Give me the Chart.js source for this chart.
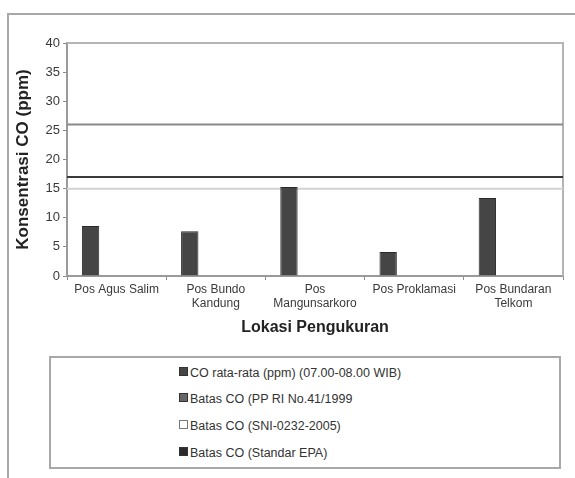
<!DOCTYPE html>
<html>
<head>
<meta charset="utf-8">
<script src="https://cdn.jsdelivr.net/npm/chart.js@4/dist/chart.umd.min.js"></script>
<style>
  body { margin: 0; background: #fff; font-family: "Liberation Sans", Arial, sans-serif; }
  #wrap { position: relative; width: 575px; height: 478px; overflow: hidden; }
  #frame { position: absolute; left: 7px; top: 13px; width: 600px; height: 500px;
           border-top: 2px solid #a8a8a8; border-left: 2px solid #a8a8a8; }
  #chartBox { position: absolute; left: 0; top: 0; width: 575px; height: 350px; }
  #legend { position: absolute; left: 49px; top: 356px; width: 508px; height: 109px;
            border: 2px solid #a8a8a8; background: #fff; }
  .item { position: absolute; left: 128px; font-size: 12.5px; color: #333; line-height: 14px; }
  .item span { display: inline-block; width: 7px; height: 7px; margin-right: 2px; vertical-align: 1px; }
</style>
</head>
<body>
<div id="wrap">
  <div id="frame"></div>
  <div id="chartBox"><canvas id="chart"></canvas></div>
  <div id="legend"></div>
</div>
<script>
// Data
const categories = [
  'Pos Agus Salim',
  ['Pos Bundo', 'Kandung'],
  ['Pos', 'Mangunsarkoro'],
  'Pos Proklamasi',
  ['Pos Bundaran', 'Telkom']
];
const coValues = [8.6, 7.7, 15.3, 4.1, 13.4];
const seriesNames = [
  'CO rata-rata (ppm) (07.00-08.00 WIB)',
  'Batas CO (PP RI No.41/1999',
  'Batas CO (SNI-0232-2005)',
  'Batas CO (Standar EPA)'
];
// limit values (ppm) drawn as horizontal lines
const limitPP = 26;
const limitSNI = 15;
const limitEPA = 17;
const yTicks = [0, 5, 10, 15, 20, 25, 30, 35, 40];

const colors = ['#454545', '#8a8a8a', '#d2d2d2', '#3a3a3a'];
const legendColors = ['#454545', '#666666', '#ffffff', '#2a2a2a'];
const limits = [null, limitPP, limitSNI, limitEPA];

// Limit lines across the whole plot + frame of the plot area
const limitLines = {
  id: 'limitLines',
  beforeDatasetsDraw(chart) {
    const { ctx, chartArea: a, scales } = chart;
    ctx.save();
    ctx.strokeStyle = '#b4b4b4';
    ctx.lineWidth = 2;
    ctx.beginPath();
    ctx.moveTo(a.left, a.top);
    ctx.lineTo(a.right, a.top);
    ctx.lineTo(a.right, a.bottom);
    ctx.stroke();
    limits.forEach((v, i) => {
      if (v === null) return;
      const y = scales.y.getPixelForValue(v);
      ctx.strokeStyle = colors[i];
      ctx.lineWidth = 2;
      ctx.beginPath();
      ctx.moveTo(a.left, y);
      ctx.lineTo(a.right, y);
      ctx.stroke();
    });
    ctx.restore();
  }
};

const datasets = seriesNames.map((name, i) => ({
  label: name,
  data: i === 0 ? coValues : categories.map(() => null),
  backgroundColor: colors[i],
  borderColor: '#2a2a2a',
  borderWidth: 1,
  categoryPercentage: 0.7,
  barPercentage: 1
}));

new Chart(document.getElementById('chart'), {
  type: 'bar',
  data: { labels: categories, datasets },
  plugins: [limitLines],
  options: {
    responsive: true,
    maintainAspectRatio: false,
    animation: false,
    layout: { padding: { left: 13, top: 43, right: 12, bottom: 0 } },
    plugins: { legend: { display: false }, tooltip: { enabled: false } },
    scales: {
      x: {
        grid: { display: true, drawOnChartArea: false, drawTicks: true, tickLength: 4, color: '#8a8a8a', lineWidth: 1 },
        border: { color: '#9a9a9a', width: 2 },
        ticks: { color: '#3a3a3a', font: { family: 'Liberation Sans', size: 12 }, padding: 2, maxRotation: 0, autoSkip: false },
        title: { display: true, text: 'Lokasi Pengukuran', color: '#222',
                 font: { family: 'Liberation Sans', size: 16, weight: 'bold' }, padding: { top: 0, bottom: 13 } },
        afterFit(scale) { scale.height = 74; }
      },
      y: {
        min: 0,
        max: 40,
        afterBuildTicks(scale) { scale.ticks = yTicks.map(v => ({ value: v })); },
        grid: { display: true, drawOnChartArea: false, drawTicks: true, tickLength: 4, color: '#8a8a8a' },
        border: { color: '#9a9a9a', width: 2 },
        ticks: { color: '#3a3a3a', font: { family: 'Liberation Sans', size: 13 }, padding: 3 },
        title: { display: true, text: 'Konsentrasi CO (ppm)', color: '#222',
                 font: { family: 'Liberation Sans', size: 17, weight: 'bold' }, padding: 0 },
        afterFit(scale) { scale.width = 54; }
      }
    }
  }
});

// Legend box (one entry per row)
const legendEl = document.getElementById('legend');
const rowTops = [8, 34, 61, 88];
seriesNames.forEach((name, i) => {
  const div = document.createElement('div');
  div.className = 'item';
  div.style.top = rowTops[i] + 'px';
  const border = i === 2 ? '1px solid #777' : '1px solid #333';
  div.innerHTML = `<span style="background:${legendColors[i]};border:${border}"></span>${name}`;
  legendEl.appendChild(div);
});
</script>
</body>
</html>
